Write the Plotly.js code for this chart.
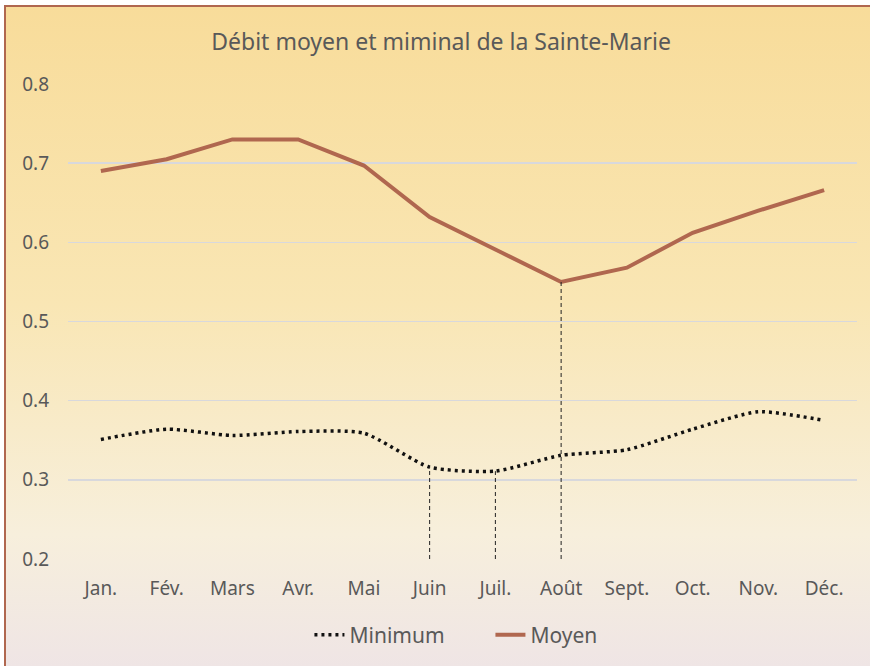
<!DOCTYPE html>
<html>
<head>
<meta charset="utf-8">
<script src="https://cdn.plot.ly/plotly-3.0.1.min.js"></script>
<style>
  html, body { margin:0; padding:0; background:#ffffff; }
  #wrap { position:absolute; left:0; top:0; width:870px; height:666px; background:#ffffff; }
  #frame { position:absolute; left:4px; top:5px; width:866px; height:661px;
    border-left:2px solid #b0674f; border-top:2px solid #b0674f; box-sizing:border-box;
    background:linear-gradient(to bottom, #f8dc9a 0%, #f9e6b4 45%, #f7efdc 80%, #efe5e5 100%); }
  #chart { position:absolute; left:0; top:0; width:870px; height:666px; }
</style>
</head>
<body>
<div id="wrap">
  <div id="frame"></div>
  <div id="chart"></div>
</div>
<script>
const months = ["Jan.", "Fév.", "Mars", "Avr.", "Mai", "Juin", "Juil.", "Août", "Sept.", "Oct.", "Nov.", "Déc."];
const minimum = [0.351, 0.364, 0.356, 0.361, 0.359, 0.316, 0.311, 0.331, 0.338, 0.364, 0.386, 0.375];
const moyen   = [0.690, 0.705, 0.730, 0.730, 0.697, 0.632, 0.591, 0.550, 0.568, 0.612, 0.640, 0.666];
const yTicks = [0.2, 0.3, 0.4, 0.5, 0.6, 0.7, 0.8];
const yBase = 0.2;
// drop lines: months and which series they reach
const dropMin = ["Juin", "Juil."];
const dropMoy = ["Août"];

const font = "'Noto Sans', 'Open Sans', sans-serif";
const traces = [];

traces.push({x:months, y:minimum, name:'Minimum', type:'scatter', mode:'lines',
  line:{color:'#111111', width:3.5, dash:'3px,4px', shape:'spline', smoothing:0.6}});
traces.push({x:months, y:moyen, name:'Moyen', type:'scatter', mode:'lines',
  line:{color:'#b0674f', width:4, shape:'linear'}});

function dropTrace(m, val) {
  return {x:[m, m], y:[yBase, val], mode:'lines', type:'scatter', showlegend:false, hoverinfo:'skip',
    line:{color:'#222222', width:1, dash:'4px,3px'}};
}
dropMin.forEach(m => traces.push(dropTrace(m, minimum[months.indexOf(m)])));
dropMoy.forEach(m => traces.push(dropTrace(m, moyen[months.indexOf(m)])));

const layout = {
  width:870, height:666,
  paper_bgcolor:'rgba(0,0,0,0)', plot_bgcolor:'rgba(0,0,0,0)',
  margin:{l:68, r:13, t:84, b:106},
  font:{family:font, color:'#595959'},
  title:{text:'Débit moyen et miminal de la Sainte-Marie', font:{family:font, size:23, color:'#595959'},
    x:0.507, xanchor:'center', y:0.937, yanchor:'middle'},
  xaxis:{type:'category', categoryorder:'array', categoryarray:months, range:[-0.5, 11.5],
    showgrid:false, zeroline:false, showline:false,
    ticks:'', tickfont:{size:19, color:'#595959'}, ticklabelstandoff:16, fixedrange:true},
  yaxis:{range:[0.2, 0.8], tickvals:yTicks, ticktext:yTicks.map(v=>v.toFixed(1)),
    showgrid:true, gridcolor:'#d8d8dc', gridwidth:1.5, zeroline:false, showline:false,
    ticks:'', tickfont:{size:19, color:'#595959'}, ticklabelstandoff:18, fixedrange:true},
  showlegend:true,
  legend:{orientation:'h', x:0.306, xanchor:'left', y:-0.158, yanchor:'middle',
    entrywidth:136, entrywidthmode:'pixels',
    font:{size:21, color:'#595959'}, bgcolor:'rgba(0,0,0,0)', traceorder:'normal'}
};

Plotly.newPlot('chart', traces, layout, {staticPlot:true, displayModeBar:false});
</script>
</body>
</html>
